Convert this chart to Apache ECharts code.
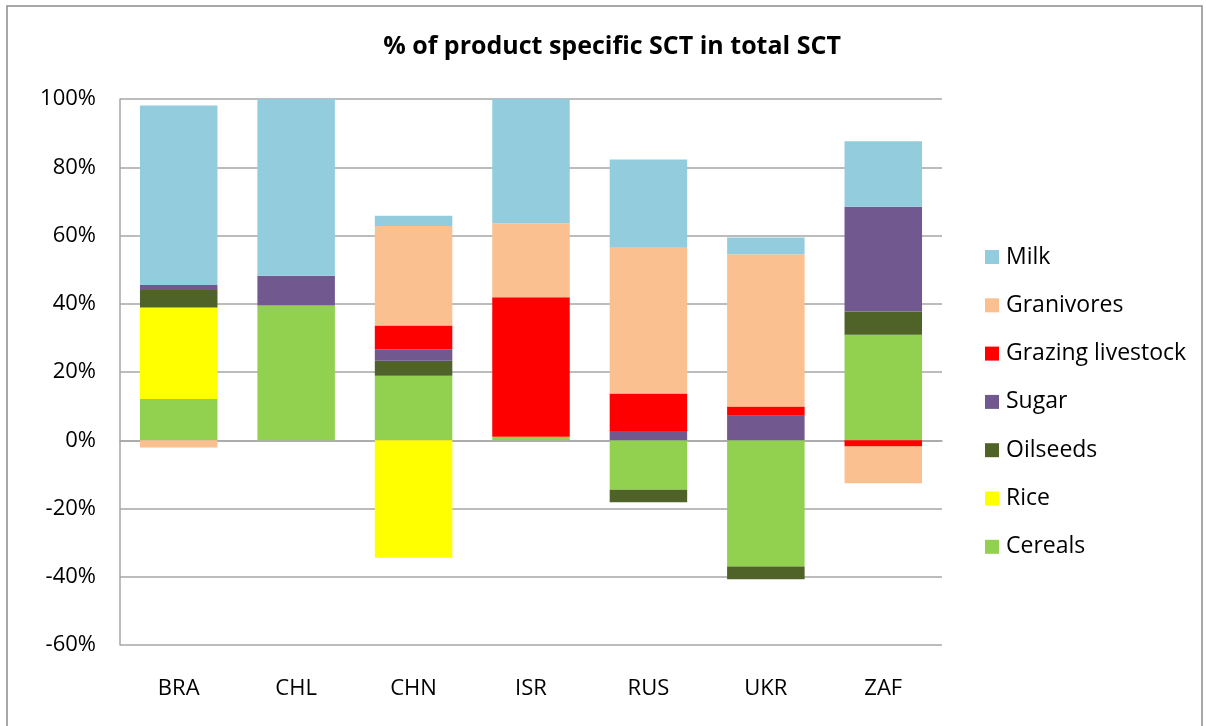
<!DOCTYPE html>
<html lang="en">
<head>
    <meta charset="utf-8">
    <title>SCT</title>
    <script src="https://cdn.jsdelivr.net/npm/echarts@6/dist/echarts.min.js"></script>
    <style>
        html, body { margin: 0; padding: 0; background: #fff; }
        #container { width: 1206px; height: 726px; }
    </style>
</head>
<body>
<div id="container"></div>
<script>
    // countries
    var countries = ['BRA', 'CHL', 'CHN', 'ISR', 'RUS', 'UKR', 'ZAF'];
    // % shares
    var cereals    = [12.1, 39.5, 18.9,  1.0, -14.5, -37.0, 30.9];
    var rice       = [26.8,  0,  -34.4,  0,     0,     0,    0];
    var oilseeds   = [ 5.1,  0,    4.4,  0,   -3.7,  -3.7,  6.8];
    var sugar      = [ 1.5,  8.7,  3.4,  0,    2.7,   7.2, 30.7];
    var grazing    = [ 0,    0,    6.9, 40.9, 11.0,   2.7, -1.8];
    var granivores = [-2.1,  0,   29.2, 21.7, 42.7,  44.6, -10.8];
    var milk       = [52.6, 51.8,  3.0, 36.4, 25.9,   4.9, 19.2];
    var yTicks = [-60, -40, -20, 0, 20, 40, 60, 80, 100];

    var names = ['Cereals', 'Rice', 'Oilseeds', 'Sugar', 'Grazing livestock', 'Granivores', 'Milk'];
    var colors = ['#92D050', '#FFFF00', '#4F6228', '#71588F', '#FF0000', '#FAC090', '#93CDDD'];
    var values = [cereals, rice, oilseeds, sugar, grazing, granivores, milk];

    var font = '"Open Sans", sans-serif';

    var series = [];
    for (var i = 0; i < names.length; i++) {
        series.push({
            name: names[i],
            type: 'bar',
            stack: 'total',
            barWidth: '66%',
            itemStyle: { color: colors[i] },
            data: values[i]
        });
    }

    var myChart = echarts.init(document.getElementById('container'));
    var option = {
        animation: false,
        backgroundColor: '#fff',
        graphic: [{
            type: 'rect',
            shape: { x: 7, y: 6, width: 1195, height: 730 },
            style: { fill: 'none', stroke: '#8c8c8c', lineWidth: 1.5 }
        }, {
            type: 'text',
            x: 612,
            y: 47,
            style: {
                text: '% of product specific SCT in total SCT',
                fontFamily: font, fontSize: 25, fontWeight: 'bold', fill: '#000',
                align: 'center', verticalAlign: 'middle'
            }
        }],
        legend: {
            orient: 'vertical',
            left: 980,
            top: 240,
            itemGap: 24.3,
            itemWidth: 14,
            itemHeight: 14,
            icon: 'rect',
            data: ['Milk', 'Granivores', 'Grazing livestock', 'Sugar', 'Oilseeds', 'Rice', 'Cereals'],
            textStyle: { fontFamily: font, fontSize: 23, lineHeight: 24, color: '#000', padding: [0, 0, 0, 2] }
        },
        grid: { left: 120, right: 264, top: 99, bottom: 81, containLabel: false },
        xAxis: {
            type: 'category',
            data: countries,
            axisLine: { onZero: true, lineStyle: { color: '#a6a6a6', width: 1.5 } },
            axisTick: { show: false },
            axisLabel: { fontFamily: font, fontSize: 22, color: '#000', margin: 33 }
        },
        yAxis: {
            type: 'value',
            min: yTicks[0],
            max: yTicks[yTicks.length - 1],
            interval: 20,
            axisLine: { show: true, lineStyle: { color: '#a6a6a6', width: 1.5 } },
            axisTick: { show: false },
            splitLine: { lineStyle: { color: '#a6a6a6', width: 1.5 } },
            axisLabel: {
                fontFamily: font, fontSize: 22, color: '#000', margin: 24,
                formatter: function (v) { return v + '%'; }
            }
        },
        series: series
    };
    myChart.setOption(option);
</script>
</body>
</html>
